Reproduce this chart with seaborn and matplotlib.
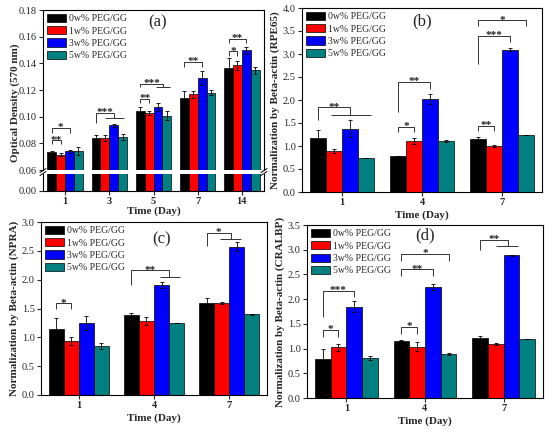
import numpy as np
import pandas as pd
import matplotlib
matplotlib.use("Agg")
import matplotlib.pyplot as plt
from matplotlib.patches import Patch
from matplotlib.lines import Line2D
import seaborn as sns

sns.set_style("ticks")
plt.rcParams['font.family'] = ['Liberation Serif', 'DejaVu Serif']

groups = ['0w% PEG/GG', '1w% PEG/GG', '3w% PEG/GG', '5w% PEG/GG']
colors = ['#000000', '#FF0000', '#0000FF', '#008080']

# (a) optical density
days_a = ['1', '3', '5', '7', '14']
od_0w = [0.0737, 0.0841, 0.1042, 0.1142, 0.1367]
od_1w = [0.0714, 0.0841, 0.1025, 0.1167, 0.1384]
od_3w = [0.0739, 0.0935, 0.1075, 0.1290, 0.1498]
od_5w = [0.0742, 0.0848, 0.1007, 0.1181, 0.1347]
od_0w_err = [0.0008, 0.0020, 0.0030, 0.0050, 0.0070]
od_1w_err = [0.0012, 0.0025, 0.0015, 0.0025, 0.0035]
od_3w_err = [0.0008, 0.0010, 0.0030, 0.0050, 0.0025]
od_5w_err = [0.0028, 0.0022, 0.0035, 0.0020, 0.0025]

# (b)-(d) gene expression
days_b = ['1', '4', '7']
rpe_0w = [1.18, 0.785, 1.16]
rpe_1w = [0.89, 1.11, 1.00]
rpe_3w = [1.38, 2.02, 3.09]
rpe_5w = [0.74, 1.11, 1.24]
rpe_0w_err = [0.17, 0.0, 0.04]
rpe_1w_err = [0.05, 0.07, 0.03]
rpe_3w_err = [0.19, 0.10, 0.03]
rpe_5w_err = [0.01, 0.03, 0.0]

npra_0w = [1.15, 1.39, 1.59]
npra_1w = [0.93, 1.285, 1.60]
npra_3w = [1.25, 1.91, 2.57]
npra_5w = [0.85, 1.25, 1.40]
npra_0w_err = [0.19, 0.03, 0.10]
npra_1w_err = [0.07, 0.07, 0.02]
npra_3w_err = [0.12, 0.05, 0.08]
npra_5w_err = [0.06, 0.0, 0.01]

cral_0w = [0.79, 1.16, 1.21]
cral_1w = [1.03, 1.04, 1.09]
cral_3w = [1.845, 2.24, 2.885]
cral_5w = [0.80, 0.89, 1.20]
cral_0w_err = [0.20, 0.01, 0.04]
cral_1w_err = [0.07, 0.09, 0.02]
cral_3w_err = [0.11, 0.06, 0.01]
cral_5w_err = [0.04, 0.02, 0.0]

# significance brackets: (day, from bar, to bar, top, left leg end, right leg end, stars, group line)
sig_a = [
    (0, 0, 1, 0.0822, 0.0795, 0.0795, '**', None),
    (0, 0, 2, 0.0913, 0.0880, 0.0880, '*', None),
    (1, 0, 2, 0.1030, 0.0955, 0.0993, '***', (1, 3.2)),
    (2, 0, 1, 0.1134, 0.1104, 0.1104, '**', None),
    (2, 0, 2.6, 0.1248, 0.1219, 0.1219, '***', (1.8, 3.4)),
    (3, 0, 2, 0.1412, 0.1370, 0.1370, '**', None),
    (4, 0, 1, 0.1490, 0.1458, 0.1458, '*', None),
    (4, 0, 2, 0.1585, 0.1555, 0.1555, '**', None),
]
sig_b = [
    (0, 0, 2, 1.84, 1.56, 1.67, '**', (0.8, 3.3)),
    (1, 0, 1, 1.42, 1.295, 1.295, '*', None),
    (1, 0, 2, 2.40, 1.745, 2.23, '**', None),
    (2, 0, 1, 1.44, 1.33, 1.33, '**', None),
    (2, 0, 2, 3.40, 2.785, 3.27, '***', None),
    (2, 0, 3, 3.73, 3.61, 3.61, '*', None),
]
sig_c = [
    (0, 0, 1, 1.59, 1.49, 1.49, '*', None),
    (1, 0, 2.5, 2.16, 1.91, 2.04, '**', (1.9, 3.2)),
    (2, 0, 1.6, 2.81, 2.58, 2.71, '*', (0.9, 2.3)),
]
sig_d = [
    (0, 0, 1, 1.385, 1.24, 1.24, '*', None),
    (0, 0, 2, 2.17, 1.64, 2.05, '***', None),
    (1, 0, 1, 1.44, 1.30, 1.30, '*', None),
    (1, 0, 2, 2.60, 2.47, 2.47, '**', None),
    (1, 0, 3, 2.91, 2.78, 2.78, '*', None),
    (2, 0, 1.8, 3.20, 2.99, 3.08, '**', (1, 2.4)),
]

W, H = 550, 430
fig = plt.figure(figsize=(5.5, 4.3), dpi=100)


def px_axes(l, t, r, b):
    return fig.add_axes([l / W, 1 - b / H, (r - l) / W, (b - t) / H])


def make_df(days, series):
    rows = []
    for g, vals in zip(groups, series):
        for d, v in zip(days, vals):
            rows.append({'day': d, 'group': g, 'value': v})
    return pd.DataFrame(rows)


def draw_bars(ax, days, series, errs):
    df = make_df(days, series)
    sns.barplot(data=df, x='day', y='value', hue='group', order=days,
                hue_order=groups, palette=colors, saturation=1, errorbar=None,
                edgecolor='black', linewidth=0.5, width=0.8, legend=False, ax=ax)
    bar_conts = list(ax.containers)[:len(groups)]
    for k, cont in enumerate(bar_conts):
        xs = [p.get_x() + p.get_width() / 2 for p in cont]
        ax.errorbar(xs, series[k], yerr=errs[k], fmt='none', ecolor='black',
                    elinewidth=0.6, capsize=1.6, capthick=0.6, zorder=5)
    ax.set_xlim(-0.5, len(days) - 0.5)
    ax.set_xlabel('')
    ax.set_ylabel('')


def bar_x(g, idx):
    return g - 0.3 + 0.2 * idx


def draw_sig(ax, sigs):
    kw = dict(color='#333333', lw=0.7, solid_capstyle='butt')
    for g, i, j, top, lb, rb, txt, line in sigs:
        xl, xr = bar_x(g, i), bar_x(g, j)
        ax.plot([xl, xl, xr, xr], [lb, top, top, rb], **kw)
        if line is not None:
            ax.plot([bar_x(g, line[0]), bar_x(g, line[1])], [rb, rb], **kw)
        ax.annotate(txt, ((xl + xr) / 2, top), xytext=(0, -1.6),
                    textcoords='offset points', ha='center', va='baseline',
                    fontsize=8, fontweight='bold', color='#222222')


def style(ax):
    for s in ax.spines.values():
        s.set_linewidth(0.8)
        s.set_color('black')
    ax.tick_params(direction='out', length=3, width=0.8, labelsize=7.5, pad=1.5)
    for lbl in ax.get_xticklabels():
        lbl.set_fontweight('bold')


def add_legend(ax):
    handles = [Patch(facecolor=c, edgecolor='black', lw=0.5) for c in colors]
    ax.legend(handles, groups, loc='upper left', frameon=False, fontsize=7,
              handlelength=2.0, handleheight=0.9, labelspacing=0.3,
              handletextpad=0.3, borderpad=0.25, borderaxespad=0.15)


# ---- panel (a): broken axis
ax_a = px_axes(43, 10, 264, 170)
ax_a0 = px_axes(43, 174, 264, 191)
series_a = [od_0w, od_1w, od_3w, od_5w]
errs_a = [od_0w_err, od_1w_err, od_3w_err, od_5w_err]
draw_bars(ax_a, days_a, series_a, errs_a)
draw_bars(ax_a0, days_a, series_a, errs_a)
ax_a.set_ylim(0.06, 0.18)
ticks_a = np.arange(0.06, 0.181, 0.02)
ax_a.set_yticks(ticks_a)
ax_a.set_yticklabels(['%.2f' % v for v in ticks_a])
ax_a.spines['bottom'].set_visible(False)
ax_a0.set_ylim(0, 0.004)
ax_a0.set_yticks([0.0])
ax_a0.set_yticklabels(['0.00'])
ax_a0.spines['top'].set_visible(False)
style(ax_a)
style(ax_a0)
ax_a.tick_params(axis='x', bottom=False, labelbottom=False)
ax_a0.set_xlabel('Time (Day)', fontsize=8, fontweight='bold', labelpad=0)
fig.text(15 / W, 1 - 103 / H, 'Optical Density (570 nm)', rotation=90,
         ha='center', va='center', fontsize=8, fontweight='bold')
draw_sig(ax_a, sig_a)
add_legend(ax_a)
ax_a.text(0.52, 0.92, '(a)', transform=ax_a.transAxes, ha='center', va='center', fontsize=12)
for xp in (43, 264):
    for dy in (-1.5, 1.5):
        yc = 172 + dy
        fig.add_artist(Line2D([(xp - 3) / W, (xp + 3) / W],
                              [1 - (yc + 2) / H, 1 - (yc - 2) / H],
                              transform=fig.transFigure, color='black', lw=0.7))


# ---- panels (b)-(d)
def panel(box, series, errs, sigs, ymax, ystep, ylab, tag, tagpos):
    ax = px_axes(*box)
    draw_bars(ax, days_b, series, errs)
    ax.set_ylim(0, ymax)
    ticks = np.arange(0, ymax + 1e-9, ystep)
    ax.set_yticks(ticks)
    ax.set_yticklabels(['%.1f' % v for v in ticks])
    style(ax)
    ax.set_xlabel('Time (Day)', fontsize=8, fontweight='bold', labelpad=2)
    ax.set_ylabel(ylab, fontsize=8, fontweight='bold', labelpad=2)
    draw_sig(ax, sigs)
    add_legend(ax)
    ax.text(tagpos[0], tagpos[1], tag, transform=ax.transAxes, ha='center',
            va='center', fontsize=12)
    return ax


panel((302, 8, 542, 192), [rpe_0w, rpe_1w, rpe_3w, rpe_5w],
      [rpe_0w_err, rpe_1w_err, rpe_3w_err, rpe_5w_err], sig_b, 4.0, 0.5,
      'Normalization by Beta-actin (RPE65)', '(b)', (0.5, 0.925))
panel((41, 222, 267, 395), [npra_0w, npra_1w, npra_3w, npra_5w],
      [npra_0w_err, npra_1w_err, npra_3w_err, npra_5w_err], sig_c, 3.0, 0.5,
      'Normalization by Beta-actin (NPRA)', '(c)', (0.535, 0.90))
panel((307, 225, 543, 398), [cral_0w, cral_1w, cral_3w, cral_5w],
      [cral_0w_err, cral_1w_err, cral_3w_err, cral_5w_err], sig_d, 3.5, 0.5,
      'Normalization by Beta-actin (CRALBP)', '(d)', (0.5, 0.94))

fig.savefig('out.png', dpi=100)
